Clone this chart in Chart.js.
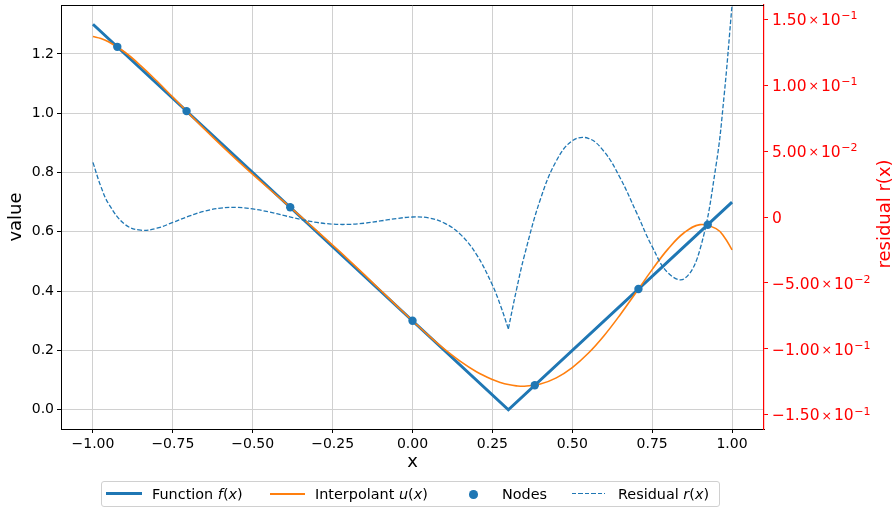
<!DOCTYPE html>
<html>
<head>
<meta charset="utf-8">
<script src="https://cdn.jsdelivr.net/npm/chart.js@4"></script>
<style>
    body { margin: 0; background: #fff; font-family: "DejaVu Sans", sans-serif; }
    #wrap { position: relative; width: 893px; height: 510px; }
    #legend { position: absolute; left: 101px; top: 481px; width: 619px; height: 26px;
              border: 1px solid #d0d0d0; border-radius: 3px; box-sizing: border-box; background: rgba(255,255,255,0.8); }
    .item { position: absolute; top: 481px; height: 26px; line-height: 26px; font-size: 14.4px; color: #000; white-space: nowrap; }
    .swatch { position: absolute; }
</style>
</head>
<body>
<div id="wrap">
    <canvas id="chart1" width="893" height="510"></canvas>
    <div id="legend"></div>
    <div class="swatch" style="left:106px; top:492px; width:36px; height:3px; background:#1f77b4;"></div>
    <div class="item" style="left:152px;">Function <i>f</i>(<i>x</i>)</div>
    <div class="swatch" style="left:270px; top:493px; width:35px; height:1.6px; background:#ff7f0e;"></div>
    <div class="item" style="left:315px;">Interpolant <i>u</i>(<i>x</i>)</div>
    <div class="swatch" style="left:469px; top:490px; width:8.5px; height:8.5px; border-radius:50%; background:#1f77b4;"></div>
    <div class="item" style="left:502px;">Nodes</div>
    <div class="swatch" style="left:572px; top:493px; width:33px; height:1.3px; background:repeating-linear-gradient(to right, #1f77b4 0 4.5px, transparent 4.5px 6.5px);"></div>
    <div class="item" style="left:618px;">Residual <i>r</i>(<i>x</i>)</div>
</div>
<script>
// f(x) = |x - 0.3| : corners of the piecewise line
const funcX = [-1, 0.3, 1];
const funcY = [1.3, 0, 0.7];

// interpolation nodes
const nodeX = [-0.9239, -0.7071, -0.3827, 0, 0.3827, 0.7071, 0.9239];
const nodeY = [1.2239, 1.0071, 0.6827, 0.3, 0.0827, 0.4071, 0.6239];

const sampleX = [-1, -0.975, -0.95, -0.9, -0.85, -0.8, -0.75, -0.7, -0.65, -0.6, -0.55, -0.5, -0.45, -0.4,
    -0.35, -0.3, -0.25, -0.2, -0.15, -0.1, -0.05, 0, 0.05, 0.1, 0.15, 0.2, 0.25, 0.275, 0.3, 0.325, 0.35,
    0.4, 0.45, 0.5, 0.55, 0.6, 0.65, 0.7, 0.75, 0.8, 0.85, 0.9, 0.95, 0.975, 1];
const interpolant = [1.2586, 1.2521, 1.2404, 1.2056, 1.1600, 1.1085, 1.0541, 0.9994, 0.9455, 0.8932, 0.8427,
    0.7939, 0.7461, 0.6990, 0.6518, 0.6041, 0.5554, 0.5056, 0.4547, 0.4030, 0.3512, 0.3000, 0.2507, 0.2046,
    0.1632, 0.1283, 0.1016, 0.0919, 0.0848, 0.0806, 0.0794, 0.0867, 0.1075, 0.1422, 0.1903, 0.2505, 0.3204,
    0.3961, 0.4725, 0.5425, 0.5969, 0.6243, 0.6107, 0.5834, 0.5392];
const residual = [0.0414, 0.0230, 0.0096, -0.0056, -0.0100, -0.0085, -0.0041, 0.0006, 0.0045, 0.0068, 0.0073,
    0.0061, 0.0039, 0.0010, -0.0018, -0.0041, -0.0054, -0.0056, -0.0047, -0.0030, -0.0012, 0, -0.0007, -0.0046,
    -0.0132, -0.0283, -0.0516, -0.0669, -0.0848, -0.0556, -0.0294, 0.0133, 0.0425, 0.0578, 0.0597, 0.0495,
    0.0296, 0.0039, -0.0225, -0.0425, -0.0469, -0.0243, 0.0393, 0.0916, 0.1608];

// tick labels
const xTicks = [-1, -0.75, -0.5, -0.25, 0, 0.25, 0.5, 0.75, 1];
const yTicks = [0, 0.2, 0.4, 0.6, 0.8, 1.0, 1.2];
const rTicks = [-0.15, -0.1, -0.05, 0, 0.05, 0.1, 0.15];
const rMantissa = ['\u22121.50', '\u22121.00', '\u22125.00', '0', '5.00', '1.00', '1.50'];
const rExponent = ['\u22121', '\u22121', '\u22122', '', '\u22122', '\u22121', '\u22121'];

const cusp = sampleX.indexOf(0.3);

function points(xArr, yArr) {
    return xArr.map((x, i) => ({x: x, y: yArr[i]}));
}

function noPadding(scale) {
    scale.paddingTop = 0;
    scale.paddingBottom = 0;
    scale.paddingLeft = 0;
    scale.paddingRight = 0;
}

const blue = '#1f77b4';
const orange = '#ff7f0e';

const extras = {
    id: 'extras',
    afterDraw(chart) {
        const {ctx, chartArea} = chart;
        const r = chart.scales.y2;
        ctx.save();
        // top spine
        ctx.strokeStyle = 'black';
        ctx.lineWidth = 1;
        ctx.beginPath();
        ctx.moveTo(chartArea.left, chartArea.top + 0.5);
        ctx.lineTo(chartArea.right, chartArea.top + 0.5);
        ctx.stroke();

        // right tick labels  m x 10^e
        ctx.fillStyle = 'red';
        ctx.textAlign = 'left';
        ctx.textBaseline = 'alphabetic';
        rTicks.forEach((v, i) => {
            const base = r.getPixelForValue(v) + 5.7;
            let x = chartArea.right + 8;
            ctx.font = '15.5px "DejaVu Sans"';
            ctx.fillText(rMantissa[i], x, base);
            if (!rExponent[i]) return;
            x += ctx.measureText(rMantissa[i]).width + 2;
            ctx.font = '12.5px "DejaVu Sans"';
            ctx.fillText('\u00d7', x, base - 0.5);
            x += ctx.measureText('\u00d7').width + 2;
            ctx.font = '15.5px "DejaVu Sans"';
            ctx.fillText('10', x, base);
            x += ctx.measureText('10').width + 0.5;
            ctx.font = '11px "DejaVu Sans"';
            ctx.fillText(rExponent[i], x, base - 5.5);
        });

        // right axis title
        ctx.translate(885, (chartArea.top + chartArea.bottom) / 2 - 3);
        ctx.rotate(-Math.PI / 2);
        ctx.font = '18px "DejaVu Sans"';
        ctx.textAlign = 'center';
        ctx.textBaseline = 'middle';
        ctx.fillText('residual r(x)', 0, 0);
        ctx.restore();
    }
};

Chart.defaults.font.family = '"DejaVu Sans"';
Chart.defaults.font.size = 14;
Chart.defaults.color = '#000';

new Chart(document.getElementById('chart1'), {
    type: 'line',
    data: {
        datasets: [
            {
                label: 'Residual r(x)',
                data: points(sampleX.slice(0, cusp + 1), residual.slice(0, cusp + 1)),
                yAxisID: 'y2',
                borderColor: blue,
                borderWidth: 1.3,
                borderDash: [4.5, 2],
                pointRadius: 0,
                tension: 0.4,
                order: 0
            },
            {
                label: 'Residual r(x) right',
                data: points(sampleX.slice(cusp), residual.slice(cusp)),
                yAxisID: 'y2',
                borderColor: blue,
                borderWidth: 1.3,
                borderDash: [4.5, 2],
                pointRadius: 0,
                tension: 0.4,
                order: 0
            },
            {
                label: 'Nodes',
                data: points(nodeX, nodeY),
                yAxisID: 'y',
                showLine: false,
                pointRadius: 4.2,
                pointBackgroundColor: blue,
                pointBorderWidth: 0,
                order: 1
            },
            {
                label: 'Interpolant u(x)',
                data: points(sampleX, interpolant),
                yAxisID: 'y',
                borderColor: orange,
                borderWidth: 1.6,
                pointRadius: 0,
                tension: 0.4,
                order: 2
            },
            {
                label: 'Function f(x)',
                data: points(funcX, funcY),
                yAxisID: 'y',
                borderColor: blue,
                borderWidth: 3,
                pointRadius: 0,
                tension: 0,
                order: 3
            }
        ]
    },
    options: {
        responsive: false,
        devicePixelRatio: 1,
        animation: false,
        events: [],
        layout: {padding: {top: 5, bottom: 36, left: 0, right: 0}},
        plugins: {
            legend: {display: false},
            tooltip: {enabled: false}
        },
        scales: {
            x: {
                type: 'linear',
                min: -1.1,
                max: 1.1,
                afterFit: scale => { scale.height = 45; noPadding(scale); },
                afterBuildTicks: scale => { scale.ticks = xTicks.map(v => ({value: v})); },
                ticks: {
                    padding: 3,
                    maxRotation: 0,
                    callback: value => value.toFixed(2).replace('-', '\u2212')
                },
                grid: {color: '#d0d0d0', tickColor: '#000', tickLength: 4},
                border: {color: '#000', width: 1},
                title: {display: true, text: 'x', font: {size: 18}, padding: {top: 0, bottom: 1}}
            },
            y: {
                type: 'linear',
                position: 'left',
                min: -0.065,
                max: 1.365,
                afterFit: scale => { scale.width = 61; noPadding(scale); },
                afterBuildTicks: scale => { scale.ticks = yTicks.map(v => ({value: v})); },
                ticks: {
                    padding: 3,
                    callback: value => value.toFixed(1)
                },
                grid: {color: '#d0d0d0', tickColor: '#000', tickLength: 4},
                border: {color: '#000', width: 1},
                title: {display: true, text: 'value', font: {size: 18}, padding: {top: 6, bottom: 0}}
            },
            y2: {
                type: 'linear',
                position: 'right',
                min: -0.1608,
                max: 0.1608,
                afterFit: scale => { scale.width = 129; noPadding(scale); },
                afterBuildTicks: scale => { scale.ticks = rTicks.map(v => ({value: v})); },
                ticks: {display: false},
                grid: {drawOnChartArea: false, color: 'red', tickColor: 'red', tickLength: 4},
                border: {color: 'red', width: 1.2}
            }
        }
    },
    plugins: [extras]
});
</script>
</body>
</html>
